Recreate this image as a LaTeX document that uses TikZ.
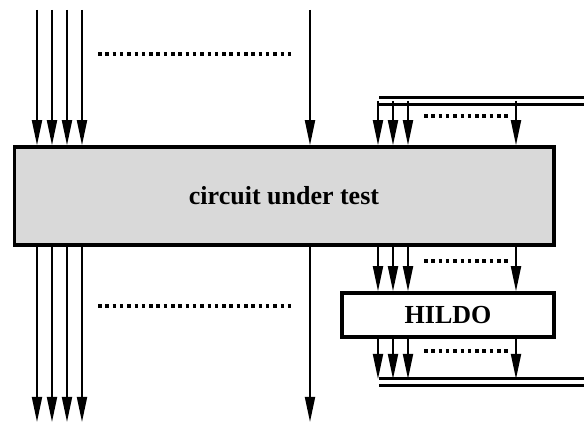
\documentclass[tikz,border=0pt]{standalone}
\usepackage{fontspec}
\setmainfont{Liberation Serif}
\usetikzlibrary{arrows.meta,positioning}

\begin{document}
\begin{tikzpicture}[x=1pt, y=1pt,
    blk/.style={draw, line width=3.5pt, inner sep=0pt, align=center, font=\fontsize{26}{30}\selectfont\bfseries},
    arr/.style={-{Triangle[length=25pt,width=10pt]}, line width=1.8pt},
    dots/.style={line width=3.5pt, dash pattern=on 3.5pt off 3.8pt},
    bus/.style={double, double distance=4pt, line width=3pt}
]
\useasboundingbox (0,0) rectangle (584,423);
\node[blk, fill=black!15, minimum width=539.5pt, minimum height=98pt] (cut) at (284,227) {circuit under test};
\node[blk, fill=white, minimum width=212pt, minimum height=44pt] (hildo) at (448,108) {HILDO};

% primary inputs and outputs
\foreach \x [count=\i] in {37,52,67,82,310} {
  \coordinate (in\i) at (\x,413);
  \coordinate (out\i) at (\x,1);
  \draw[arr] (in\i) -- (in\i |- cut.north);
  \draw[arr] (cut.south -| out\i) -- (out\i);
}
\draw[dots] (98,369) -- (295,369);
\draw[dots] (98,117) -- (295,117);

% scan buses
\coordinate (busin) at (379,321.5);
\coordinate (businend) at (590,321.5);
\coordinate (busout) at (379,40.5);
\coordinate (busoutend) at (590,40.5);
\draw[bus] (busin) -- (businend);
\draw[bus] (busout) -- (busoutend);

\foreach \x [count=\i] in {378,393,408,516} {
  \coordinate (tap\i) at (\x,322);
  \coordinate (drop\i) at (\x,44);
  \draw[arr] (tap\i) -- (tap\i |- cut.north);
  \draw[arr] (cut.south -| tap\i) -- (tap\i |- hildo.north);
  \draw[arr] (hildo.south -| drop\i) -- (drop\i);
}
\draw[dots] (424,307) -- (508,307);
\draw[dots] (424,162) -- (508,162);
\draw[dots] (424,72) -- (508,72);
\end{tikzpicture}
\end{document}
